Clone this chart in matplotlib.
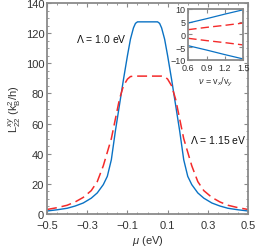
import matplotlib
matplotlib.use("Agg")
import matplotlib.pyplot as plt
from matplotlib.ticker import MultipleLocator, FixedLocator

plt.rcParams['font.family'] = ['Liberation Sans', 'DejaVu Sans']
plt.rcParams['mathtext.fontset'] = 'custom'
plt.rcParams['mathtext.rm'] = 'Liberation Sans'
plt.rcParams['mathtext.it'] = 'Liberation Sans:italic'

# main panel: L22^xy vs chemical potential
mu = [-0.5, -0.45, -0.4, -0.36, -0.32, -0.28, -0.25, -0.22, -0.2, -0.18, -0.16,
      -0.14, -0.12, -0.1, -0.085, -0.07, -0.06, -0.05, 0.0,
      0.05, 0.06, 0.07, 0.085, 0.1, 0.12, 0.14, 0.16, 0.18, 0.2, 0.22,
      0.25, 0.28, 0.32, 0.36, 0.4, 0.45, 0.5]
L_lam10 = [2.0, 2.8, 3.8, 5.3, 7.3, 10.5, 14.0, 19.5, 25.0, 36.0, 55.0,
           72.0, 89.0, 105.0, 116.0, 123.5, 126.5, 127.5, 127.5,
           127.5, 126.5, 123.5, 116.0, 105.0, 89.0, 72.0, 55.0, 36.0, 25.0, 19.5,
           14.0, 10.5, 7.3, 5.3, 3.8, 2.8, 2.0]
L_lam115 = [3.0, 4.2, 5.8, 8.0, 11.0, 15.5, 21.5, 32.0, 41.0, 50.0, 63.0,
            76.0, 85.0, 89.5, 91.2, 91.5, 91.5, 91.5, 91.5,
            91.5, 91.5, 91.5, 91.2, 89.5, 85.0, 76.0, 63.0, 50.0, 41.0, 32.0,
            21.5, 15.5, 11.0, 8.0, 5.8, 4.2, 3.0]

# inset: vs anisotropy nu = vx/vy
nu = [0.6, 0.9, 1.2, 1.5]
ins_blue_up = [4.5, 6.2, 8.0, 9.7]
ins_blue_lo = [-4.4, -6.1, -7.9, -9.6]
ins_red_up = [1.9, 2.8, 3.6, 4.5]
ins_red_lo = [-1.5, -2.4, -3.2, -4.1]

xticks = [-0.5, -0.3, -0.1, 0.1, 0.3, 0.5]
yticks = [0, 20, 40, 60, 80, 100, 120, 140]

blue = '#0a72c4'
red = '#f42a2a'
spine_c = '#8a8a8a'
text_c = '#333333'


def style_axes(ax, size):
    for s in ax.spines.values():
        s.set_color(spine_c)
        s.set_linewidth(1.3)
    ax.tick_params(which='both', direction='in', top=True, right=True,
                   color=spine_c, labelcolor=text_c, labelsize=size, pad=2)
    ax.tick_params(which='major', length=3, width=0.8)
    ax.tick_params(which='minor', length=1.5, width=0.6)


fig = plt.figure(figsize=(2.56, 2.51), dpi=100)
ax = fig.add_axes([0.1836, 0.1434, 0.7854, 0.8406])
ax.plot(mu, L_lam10, color=blue, lw=1.0)
ax.plot(mu, L_lam115, color=red, lw=1.1, dashes=(6.5, 3.2))
ax.set_xlim(-0.5, 0.5)
ax.set_ylim(0, 140)
ax.xaxis.set_major_locator(FixedLocator(xticks))
ax.xaxis.set_minor_locator(MultipleLocator(0.05))
ax.yaxis.set_major_locator(FixedLocator(yticks))
ax.yaxis.set_minor_locator(MultipleLocator(5))
style_axes(ax, 8)
ax.tick_params(axis='x', which='both', pad=4.5)
ax.set_xlabel(r'$\mu$ (eV)', fontsize=8, color=text_c, labelpad=2)
ax.set_ylabel(r'L$_{22}^{xy}$ (k$_\mathrm{B}^2$/h)', fontsize=8, color=text_c, labelpad=2)
ax.text(-0.105, 116.5, r'$\Lambda$ = 1.0 eV', fontsize=7.5, ha='right', va='center', color='#111111')
ax.text(0.49, 50, r'$\Lambda$ = 1.15 eV', fontsize=7.5, ha='right', va='center', color='#111111')

ins = fig.add_axes([0.7355, 0.757, 0.2148, 0.2032])
ins.plot(nu, ins_blue_up, color=blue, lw=0.9)
ins.plot(nu, ins_blue_lo, color=blue, lw=0.9)
ins.plot(nu, ins_red_up, color=red, lw=1.0, dashes=(6, 3))
ins.plot(nu, ins_red_lo, color=red, lw=1.0, dashes=(6, 3))
ins.set_xlim(0.6, 1.5)
ins.set_ylim(-10, 10)
ins.xaxis.set_major_locator(MultipleLocator(0.3))
ins.yaxis.set_major_locator(MultipleLocator(5))
style_axes(ins, 6.5)
ins.set_xlabel(r'$\nu$ = v$_x$/v$_y$', fontsize=6.5, color=text_c, labelpad=2)

fig.savefig('out.png', dpi=100)
